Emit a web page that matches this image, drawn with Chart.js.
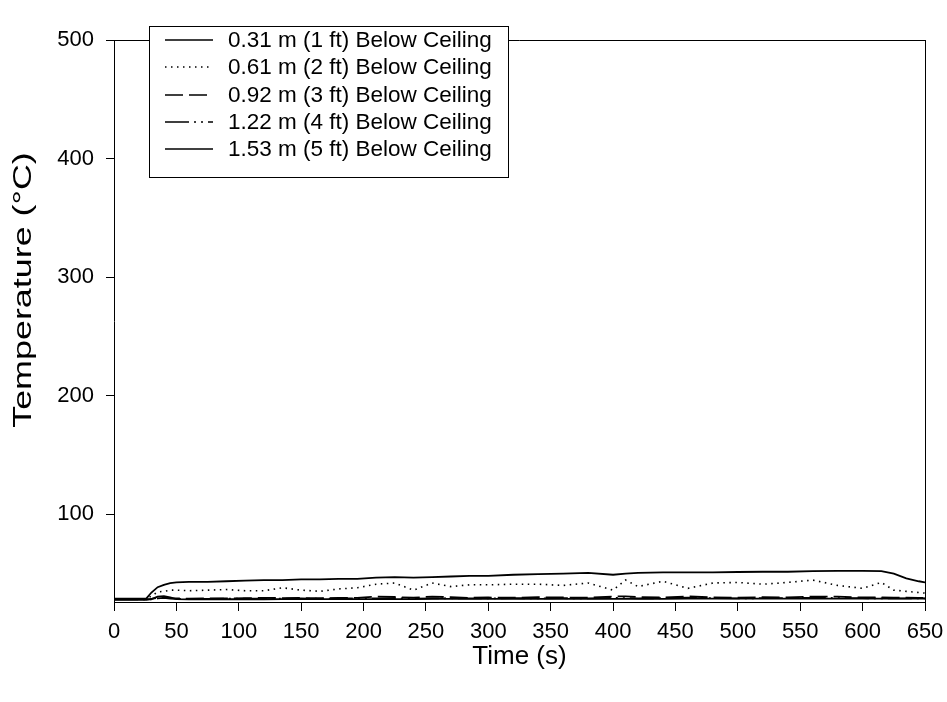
<!DOCTYPE html>
<html>
<head>
<meta charset="utf-8">
<script src="https://cdn.jsdelivr.net/npm/chart.js@4/dist/chart.umd.min.js"></script>
<style>
html,body{margin:0;padding:0;background:#fff;}
#c{display:block;}
</style>
</head>
<body>
<canvas id="c" width="947" height="702"></canvas>
<script>
// ---- data ----
const times = [0,10,20,26,30,35,40,45,50,60,75,90,105,120,135,150,165,180,195,210,225,240,255,270,285,300,320,340,360,380,400,410,420,440,460,480,500,520,540,560,580,600,615,625,635,645,650];
const s1 = [28.8,28.8,28.8,29,34,38.5,40.5,42,42.5,43,43,43.5,44,44.5,44.5,45,45,45.5,45.5,46.5,47,46.5,47,47.5,48,48,49,49.5,50,50.5,49,50,50.5,51,51,51,51.3,51.5,51.5,52,52.3,52.3,52,50,46,43.5,42.5];
const s2 = [28.5,28.5,28.5,28.6,31,34.5,35,36,36,35.5,36,36.5,35.5,35.5,38,36,35,37,38,41,42,36,42,39,40.5,40.5,41,41,40,42,36,44.5,39,43.5,37.5,42,42.5,41,42.5,44.5,40,37.5,42.5,36,35,34,33.5];
const s3 = [28.4,28.4,28.4,28.4,28.6,29.5,29.8,29.2,29,28.8,29,29,29.2,29.5,29.3,29.4,29.2,29.4,29.5,30.5,30.2,29.6,30.6,30,29.5,29.8,29.6,30,29.8,29.7,30.6,30.8,30.2,29.8,30.7,29.8,29.7,30,29.8,30.5,30.6,29.8,29.8,29.7,29.6,29.5,29.5];
const s4 = [28.2,28.2,28.2,28.2,28.3,29,29.5,28.8,28.6,28.6,28.7,28.8,28.8,28.9,28.8,29,28.8,29,29,29.1,29,28.9,29,29.2,29,29.1,29.2,29.1,29.2,29,29.4,29.3,29.1,29.2,29.6,29.2,29.1,29.2,29.3,29.5,29.3,29.2,29.1,29.1,29,29,29];
const s5 = [27.8,27.8,27.8,27.8,28.5,30.6,31,30,28.5,28.2,28.2,28.3,28.3,28.3,28.4,28.4,28.4,28.5,28.5,28.5,28.5,28.5,28.6,28.6,28.6,28.6,28.6,28.6,28.7,28.7,28.7,28.7,28.7,28.7,28.8,28.8,28.8,28.8,28.8,28.8,28.8,28.8,28.8,28.8,28.8,28.8,28.8];
const seriesLabels = ['0.31 m (1 ft) Below Ceiling','0.61 m (2 ft) Below Ceiling','0.92 m (3 ft) Below Ceiling','1.22 m (4 ft) Below Ceiling','1.53 m (5 ft) Below Ceiling'];
const yTicks = [100,200,300,400,500];
const xTitle = 'Time (s)';
const yTitle = 'Temperature (°C)';

// ---- styling ----
const FONT = 'Arial, "Liberation Sans", sans-serif';
const dashes = [[], [1.5,4.5], [18,6], [24,5,2,5,2,5], []];
const widths = [1.8,1.6,1.8,1.8,1.8];
const seriesVals = [s1,s2,s3,s4,s5];

const datasets = seriesVals.map((vals,i)=>({
  label: seriesLabels[i],
  data: times.map((t,k)=>({x:t,y:vals[k]})),
  borderColor:'#000',
  borderWidth: widths[i],
  borderDash: dashes[i],
  pointRadius:0,
  fill:false,
  tension:0
}));

const framePlugin = {
  id:'frame',
  afterDatasetsDraw(chart){
    const {ctx, chartArea:a} = chart;
    ctx.save();
    ctx.strokeStyle='#000';
    ctx.lineWidth=1;
    ctx.beginPath();
    ctx.moveTo(a.left, a.top+0.5); ctx.lineTo(a.right+0.5, a.top+0.5);
    ctx.moveTo(a.right+0.5, a.top); ctx.lineTo(a.right+0.5, a.bottom);
    ctx.stroke();
    // legend box
    const bx=149.5, by=26.5, bw=359, bh=151;
    ctx.fillStyle='#fff';
    ctx.fillRect(bx,by,bw,bh);
    ctx.strokeRect(bx,by,bw,bh);
    const rows=[40,67,95,122,149];
    ctx.font='22.5px '+FONT;
    ctx.textBaseline='middle';
    ctx.textAlign='left';
    rows.forEach((ry,i)=>{
      ctx.beginPath();
      ctx.setLineDash(dashes[i]);
      ctx.lineWidth=1.6;
      ctx.moveTo(165, ry); ctx.lineTo(213, ry);
      ctx.stroke();
      ctx.setLineDash([]);
      ctx.fillStyle='#000';
      ctx.fillText(seriesLabels[i], 228, ry+1);
    });
    // y axis title (stretched along its length as in the reference)
    ctx.save();
    ctx.translate(31, 290);
    ctx.rotate(-Math.PI/2);
    ctx.scale(1.38,1);
    ctx.font='26px '+FONT;
    ctx.textAlign='center';
    ctx.textBaseline='alphabetic';
    ctx.fillStyle='#000';
    ctx.fillText(yTitle, 0, 0);
    ctx.restore();
    ctx.restore();
  }
};

new Chart(document.getElementById('c'), {
  type:'line',
  data:{datasets},
  options:{
    responsive:false,
    devicePixelRatio:1,
    animation:false,
    layout:{padding:{top:40,right:22,left:0,bottom:0}},
    plugins:{legend:{display:false},tooltip:{enabled:false}},
    scales:{
      x:{
        type:'linear', min:0, max:650,
        ticks:{stepSize:50, color:'#000', font:{family:FONT,size:22}, padding:8, maxRotation:0},
        grid:{drawOnChartArea:false, drawTicks:true, tickLength:9, color:'#000'},
        border:{color:'#000', width:1},
        title:{display:true, text:xTitle, color:'#000', font:{family:FONT,size:26}, padding:{bottom:30}},
        afterFit(s){ s.height = 100; s.paddingRight = 0; s.paddingLeft = 0; }
      },
      y:{
        type:'linear', min:26, max:500,
        afterBuildTicks(s){ s.ticks = yTicks.map(v=>({value:v})); },
        ticks:{color:'#000', font:{family:FONT,size:22}, padding:12},
        grid:{drawOnChartArea:false, drawTicks:true, tickLength:8, color:'#000'},
        border:{color:'#000', width:1},
        title:{display:false, text:yTitle},
        afterFit(s){ s.width = 114; s.paddingTop = 0; s.paddingBottom = 0; }
      }
    }
  },
  plugins:[framePlugin]
});
</script>
</body>
</html>
